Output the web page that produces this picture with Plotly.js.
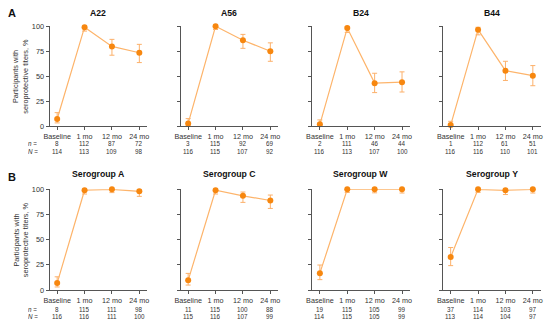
<!DOCTYPE html>
<html>
<head>
<meta charset="utf-8">
<script src="https://cdn.plot.ly/plotly-3.0.1.min.js"></script>
<style>html,body{margin:0;padding:0;background:#fff}#chart{width:550px;height:328px}</style>
</head>
<body>
<div id="chart"></div>
<script>
const categories = ['Baseline', '1 mo', '12 mo', '24 mo'];
const panelTitles = ['A22', 'A56', 'B24', 'B44', 'Serogroup A', 'Serogroup C', 'Serogroup W', 'Serogroup Y'];
const rowLetters = ['A', 'B'];
const yTicks = [0, 25, 50, 75, 100];

const valuesA22 = [7.0, 99.1, 79.8, 73.5];
const ciLowA22 = [3.1, 95.2, 71.0, 63.6];
const ciHighA22 = [13.4, 100, 86.9, 81.9];
const nA22 = [8, 112, 87, 72];
const totalA22 = [114, 113, 109, 98];

const valuesA56 = [2.6, 100, 86.0, 75.0];
const ciLowA56 = [0.5, 96.8, 77.9, 64.9];
const ciHighA56 = [7.4, 100, 91.9, 83.4];
const nA56 = [3, 115, 92, 69];
const totalA56 = [116, 115, 107, 92];

const valuesB24 = [1.7, 98.2, 43.0, 44.0];
const ciLowB24 = [0.2, 93.8, 33.5, 34.1];
const ciHighB24 = [6.1, 99.8, 52.9, 54.3];
const nB24 = [2, 111, 46, 44];
const totalB24 = [116, 113, 107, 100];

const valuesB44 = [0.9, 96.6, 55.5, 50.5];
const ciLowB44 = [0.0, 91.4, 45.7, 40.4];
const ciHighB44 = [4.7, 99.1, 64.9, 60.6];
const nB44 = [1, 112, 61, 51];
const totalB44 = [116, 116, 110, 101];

const valuesSgA = [6.9, 99.1, 100, 98.0];
const ciLowSgA = [3.0, 95.3, 96.7, 93.0];
const ciHighSgA = [13.1, 100, 100, 99.8];
const nSgA = [8, 115, 111, 98];
const totalSgA = [116, 116, 111, 100];

const valuesSgC = [9.6, 99.1, 93.5, 88.9];
const ciLowSgC = [4.9, 95.3, 87.0, 81.0];
const ciHighSgC = [16.5, 100, 97.3, 94.3];
const nSgC = [11, 115, 100, 88];
const totalSgC = [115, 116, 107, 99];

const valuesSgW = [16.7, 100, 100, 100];
const ciLowSgW = [10.3, 96.8, 96.5, 96.3];
const ciHighSgW = [24.8, 100, 100, 100];
const nSgW = [19, 115, 105, 99];
const totalSgW = [114, 115, 105, 99];

const valuesSgY = [32.7, 100, 99.0, 100];
const ciLowSgY = [24.2, 96.8, 94.8, 96.3];
const ciHighSgY = [42.2, 100, 100, 100];
const nSgY = [37, 114, 103, 97];
const totalSgY = [113, 114, 104, 97];

const panels = [
  [valuesA22, ciLowA22, ciHighA22, nA22, totalA22],
  [valuesA56, ciLowA56, ciHighA56, nA56, totalA56],
  [valuesB24, ciLowB24, ciHighB24, nB24, totalB24],
  [valuesB44, ciLowB44, ciHighB44, nB44, totalB44],
  [valuesSgA, ciLowSgA, ciHighSgA, nSgA, totalSgA],
  [valuesSgC, ciLowSgC, ciHighSgC, nSgC, totalSgC],
  [valuesSgW, ciLowSgW, ciHighSgW, nSgW, totalSgW],
  [valuesSgY, ciLowSgY, ciHighSgY, nSgY, totalSgY]
];

const W = 550, H = 328;
const FONT = 'Liberation Sans, Arial, sans-serif';
const lefts = [49.5, 180.5, 312.2, 443];
const panelW = 97.5;
const rowsY = [[26.3, 126], [189.3, 290]];
const nRowY = [144, 309];
const NRowY = [151, 316.3];
const titleY = [13, 174];

const px = x => x / W;
const py = y => 1 - y / H;

const data = [];
const annotations = [];
const layout = {
  width: W, height: H,
  margin: {l: 0, r: 0, t: 0, b: 0},
  paper_bgcolor: '#fff', plot_bgcolor: '#fff',
  showlegend: false,
  font: {family: FONT, size: 7.2, color: '#333'}
};

panels.forEach((p, i) => {
  const row = Math.floor(i / 4), col = i % 4;
  const k = i + 1;
  const xa = 'x' + (k === 1 ? '' : k), ya = 'y' + (k === 1 ? '' : k);
  const [vals, lo, hi, n, tot] = p;
  data.push({
    type: 'scatter', mode: 'lines+markers',
    x: categories, y: vals, xaxis: xa, yaxis: ya,
    line: {color: '#fdb46b', width: 1.2},
    marker: {color: '#f7870f', size: 6},
    cliponaxis: false,
    error_y: {
      type: 'data', symmetric: false,
      array: vals.map((v, j) => hi[j] - v),
      arrayminus: vals.map((v, j) => v - lo[j]),
      color: '#fcb06a', thickness: 1, width: 2.5
    }
  });
  layout['xaxis' + (k === 1 ? '' : k)] = {
    domain: [px(lefts[col]), px(lefts[col] + panelW)],
    anchor: ya, type: 'category', range: [-0.28, 3.28],
    showline: true, linecolor: '#555', linewidth: 1,
    ticks: 'outside', ticklen: 3, tickcolor: '#555',
    showgrid: false, zeroline: false,
    tickfont: {family: FONT, size: 7.2, color: '#333'}
  };
  layout['yaxis' + (k === 1 ? '' : k)] = {
    domain: [py(rowsY[row][1]), py(rowsY[row][0])],
    anchor: xa, range: [0, 100],
    tickvals: yTicks,
    showticklabels: col === 0,
    showline: true, linecolor: '#555', linewidth: 1,
    ticks: 'outside', ticklen: 3, tickcolor: '#555',
    showgrid: false, zeroline: false,
    tickfont: {family: FONT, size: 7.3, color: '#333'}
  };
  annotations.push({
    text: '<b>' + panelTitles[i] + '</b>', xref: 'paper', yref: 'paper',
    x: px(lefts[col] + panelW / 2), y: py(titleY[row]),
    showarrow: false, font: {family: FONT, size: 8.7, color: '#111'},
    xanchor: 'center', yanchor: 'middle'
  });
  categories.forEach((c, j) => {
    annotations.push({
      text: String(n[j]), xref: xa, yref: 'paper', x: c, y: py(nRowY[row]),
      showarrow: false, font: {family: FONT, size: 6.3, color: '#333'},
      xanchor: 'center', yanchor: 'middle', height: 7
    });
    annotations.push({
      text: String(tot[j]), xref: xa, yref: 'paper', x: c, y: py(NRowY[row]),
      showarrow: false, font: {family: FONT, size: 6.3, color: '#333'},
      xanchor: 'center', yanchor: 'middle', height: 7
    });
  });
});

[0, 1].forEach(row => {
  annotations.push({
    text: '<b>' + rowLetters[row] + '</b>', xref: 'paper', yref: 'paper',
    x: px(5.5), y: py(titleY[row] + (row === 0 ? 0 : 3)),
    showarrow: false, font: {family: FONT, size: 11, color: '#111'},
    xanchor: 'left', yanchor: 'middle'
  });
  annotations.push({
    text: 'Participants with<br>seroprotective titers, %', xref: 'paper', yref: 'paper',
    x: px(20.5), y: py((rowsY[row][0] + rowsY[row][1]) / 2),
    textangle: -90, showarrow: false,
    font: {family: FONT, size: 7.3, color: '#333'},
    xanchor: 'center', yanchor: 'middle'
  });
  annotations.push({
    text: '<i>n</i> =', xref: 'paper', yref: 'paper', x: px(25.5), y: py(nRowY[row]),
    showarrow: false, font: {family: FONT, size: 6.3, color: '#333'},
    xanchor: 'left', yanchor: 'middle', height: 7
  });
  annotations.push({
    text: '<i>N</i> =', xref: 'paper', yref: 'paper', x: px(25.5), y: py(NRowY[row]),
    showarrow: false, font: {family: FONT, size: 6.3, color: '#333'},
    xanchor: 'left', yanchor: 'middle', height: 7
  });
});

layout.annotations = annotations;
Plotly.newPlot('chart', data, layout, {displayModeBar: false, staticPlot: true});
</script>
</body>
</html>
